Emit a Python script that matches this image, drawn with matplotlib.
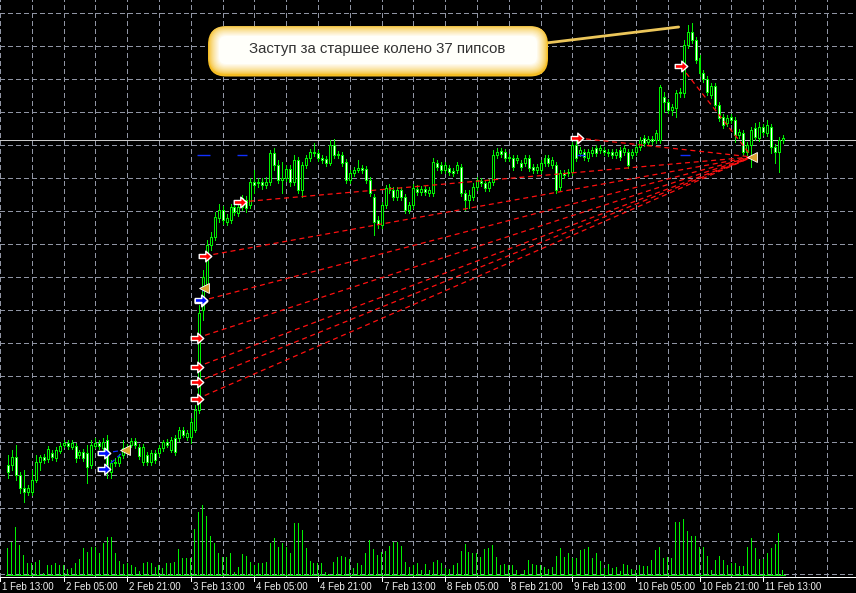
import numpy as np
import matplotlib.pyplot as plt
import matplotlib.transforms as mtransforms
from matplotlib.patches import FancyBboxPatch
from matplotlib.path import Path

plt.rcParams['font.family'] = ['Liberation Sans', 'DejaVu Sans']

# H1 bars (price in chart points)
opens = [135, 135, 143, 125, 112, 108, 108, 120, 138, 143,
         141, 147, 142, 149, 155, 157, 153, 154, 145, 148,
         147, 135, 154, 157, 152, 160, 128, 137, 137, 145,
         153, 155, 159, 153, 138, 145, 138, 147, 147, 152,
         158, 150, 162, 162, 170, 163, 163, 170, 190, 290,
         315, 355, 363, 382, 390, 378, 380, 393, 387, 393,
         400, 395, 418, 417, 418, 415, 418, 447, 435, 420,
         422, 431, 418, 440, 410, 435, 442, 448, 447, 442,
         441, 437, 455, 445, 445, 438, 420, 427, 430, 432,
         431, 420, 403, 380, 375, 395, 413, 410, 403, 410,
         403, 390, 395, 411, 408, 411, 407, 407, 437, 435,
         430, 432, 429, 430, 433, 407, 400, 403, 413, 419,
         417, 412, 418, 445, 449, 448, 442, 442, 440, 437,
         437, 442, 433, 430, 430, 437, 442, 435, 435, 413,
         427, 427, 428, 455, 447, 448, 442, 447, 452, 450,
         450, 448, 448, 445, 450, 448, 448, 445, 448, 453,
         462, 458, 461, 460, 460, 503, 498, 490, 492, 507,
         507, 555, 568, 560, 542, 527, 521, 505, 514, 495,
         483, 477, 483, 480, 465, 467, 448, 455, 472, 462,
         473, 467, 473, 453, 448, 460]
highs = [145, 150, 155, 128, 130, 115, 130, 145, 145, 146,
         154, 150, 153, 157, 160, 160, 160, 157, 150, 151,
         155, 160, 162, 160, 162, 165, 140, 142, 146, 160,
         156, 162, 162, 156, 156, 148, 150, 150, 155, 160,
         161, 163, 165, 173, 173, 170, 182, 195, 295, 330,
         360, 368, 388, 396, 394, 386, 396, 396, 397, 405,
         404, 422, 430, 422, 422, 423, 450, 452, 440, 438,
         435, 435, 445, 443, 438, 445, 451, 457, 450, 445,
         444, 460, 461, 449, 448, 441, 430, 433, 440, 435,
         434, 423, 406, 384, 398, 415, 416, 413, 413, 413,
         406, 398, 416, 415, 414, 414, 413, 442, 440, 438,
         438, 435, 432, 438, 436, 410, 410, 417, 423, 422,
         420, 421, 450, 452, 452, 451, 446, 445, 445, 440,
         445, 445, 436, 436, 440, 445, 445, 443, 438, 430,
         430, 431, 458, 462, 453, 451, 451, 453, 455, 455,
         453, 451, 451, 451, 453, 455, 451, 451, 456, 463,
         465, 464, 464, 470, 515, 508, 501, 496, 510, 512,
         560, 575, 577, 563, 545, 530, 524, 517, 517, 498,
         486, 485, 486, 483, 471, 470, 458, 473, 477, 478,
         476, 480, 476, 456, 463, 465]
lows = [122, 130, 120, 107, 98, 105, 105, 118, 130, 137,
        138, 140, 139, 147, 153, 151, 151, 138, 142, 139,
        117, 132, 152, 151, 148, 122, 122, 134, 134, 142,
        148, 153, 152, 141, 135, 135, 135, 137, 144, 149,
        153, 148, 145, 159, 163, 160, 157, 168, 187, 280,
        310, 350, 360, 378, 376, 375, 377, 385, 384, 390,
        388, 392, 407, 413, 411, 412, 415, 430, 417, 407,
        419, 414, 415, 407, 403, 432, 439, 444, 439, 437,
        434, 435, 442, 442, 434, 417, 417, 424, 428, 427,
        417, 404, 365, 372, 372, 392, 407, 400, 400, 400,
        387, 387, 392, 405, 405, 405, 404, 404, 430, 427,
        427, 425, 424, 427, 404, 390, 392, 400, 410, 414,
        409, 409, 415, 442, 443, 439, 439, 430, 437, 430,
        434, 429, 427, 427, 427, 434, 434, 432, 407, 410,
        422, 424, 425, 439, 444, 440, 439, 444, 444, 447,
        445, 444, 442, 442, 440, 445, 432, 442, 445, 450,
        454, 455, 456, 457, 457, 488, 487, 485, 483, 503,
        503, 552, 557, 537, 524, 518, 505, 502, 492, 479,
        472, 474, 477, 458, 462, 445, 445, 433, 460, 459,
        465, 464, 447, 437, 428, 457]
closes = [128, 143, 125, 112, 108, 112, 120, 138, 143, 140,
          151, 143, 150, 154, 157, 154, 157, 142, 148, 142,
          133, 155, 157, 154, 158, 132, 137, 138, 143, 152,
          150, 159, 155, 144, 153, 138, 147, 140, 152, 158,
          155, 160, 148, 170, 165, 167, 178, 190, 287, 323,
          355, 363, 383, 390, 380, 382, 393, 388, 393, 402,
          392, 418, 415, 418, 415, 418, 447, 435, 420, 422,
          431, 418, 440, 410, 435, 442, 448, 447, 442, 440,
          437, 455, 445, 446, 437, 420, 427, 430, 432, 430,
          420, 407, 378, 376, 395, 412, 410, 403, 410, 403,
          390, 395, 412, 408, 411, 408, 410, 438, 433, 430,
          435, 428, 427, 435, 407, 400, 405, 413, 420, 417,
          412, 418, 445, 448, 446, 442, 443, 433, 442, 433,
          442, 432, 430, 433, 437, 442, 437, 440, 410, 427,
          425, 428, 455, 442, 450, 443, 448, 450, 447, 452,
          448, 447, 445, 448, 443, 452, 435, 448, 453, 460,
          457, 461, 459, 467, 513, 498, 490, 493, 507, 508,
          555, 568, 560, 540, 527, 521, 508, 514, 495, 482,
          475, 482, 480, 465, 468, 448, 455, 470, 463, 473,
          468, 475, 453, 448, 460, 462]
volumes = [27, 33, 48, 30, 20, 12, 12, 13, 15, 2,
           10, 10, 12, 10, 10, 6, 7, 12, 16, 27,
           23, 28, 28, 22, 32, 38, 38, 22, 14, 11,
           12, 10, 8, 4, 12, 13, 12, 8, 10, 7,
           12, 12, 13, 26, 17, 17, 17, 46, 63, 70,
           59, 39, 32, 22, 18, 18, 22, 3, 8, 21,
           19, 13, 10, 12, 12, 13, 32, 37, 28, 32,
           28, 22, 52, 52, 45, 27, 14, 12, 12, 12,
           3, 1, 13, 18, 19, 18, 16, 7, 12, 10,
           22, 35, 26, 20, 23, 24, 29, 33, 33, 29,
           13, 8, 10, 12, 5, 11, 5, 13, 15, 12,
           7, 6, 10, 12, 24, 31, 23, 22, 22, 18,
           26, 27, 30, 18, 10, 11, 10, 10, 5, 1,
           5, 15, 11, 10, 10, 8, 6, 8, 19, 27,
           18, 22, 17, 17, 25, 26, 28, 17, 22, 14,
           7, 11, 7, 8, 4, 11, 10, 6, 5, 10,
           9, 9, 15, 25, 28, 17, 18, 17, 53, 53,
           56, 44, 39, 39, 28, 28, 19, 5, 15, 19,
           15, 10, 12, 12, 9, 9, 28, 37, 27, 16,
           16, 22, 27, 31, 42, 5]

time_labels = ['1 Feb 13:00', '2 Feb 05:00', '2 Feb 21:00', '3 Feb 13:00',
               '4 Feb 05:00', '4 Feb 21:00', '7 Feb 13:00', '8 Feb 05:00',
               '8 Feb 21:00', '9 Feb 13:00', '10 Feb 05:00', '10 Feb 21:00',
               '11 Feb 13:00']
label_bars = [-2, 14, 30, 46, 62, 78, 94, 110, 126, 142, 158, 174, 190]

bid_price = 460

# trades (bar position, price)
sell_open_x = [58.5, 49.5, 48.5, 47.5, 47.5, 47.5, 47.5, 143.25, 169.25]
sell_open_p = [398, 344, 299, 262, 233, 218, 201, 462, 534]
sell_close_x, sell_close_p = 187.25, 443
buy_open_x = [24.25, 24.25, 48.5]
buy_open_p = [147, 131, 300]
buy_close_x = [29.5, 29.5, 49.25]
buy_close_p = [150, 150, 312]
close_mark_x = [29.5, 49.25, 187.25]
close_mark_p = [150, 312, 443]
level_spans = [(47.5, 50.75), (57.75, 60.25), (143.25, 145.25), (169.0, 171.5)]
level_price = 445

note_text = 'Заступ за старшее колено 37 пипсов'
note_target = (168.75, 573)

GREEN = '#00f000'
GRID = '#9095a4'
W, H = 856, 593

fig = plt.figure(figsize=(W / 100, H / 100), dpi=100, facecolor='black')
ax = fig.add_axes([0, 16 / H, 1, 577 / H])
ax.set_facecolor('black')
ax.set_xlim(-0.625, 213.375)
ax.set_ylim(23, 600)

ax.set_xticks(np.arange(-2, 214, 8))
ax.set_yticks(np.arange(26, 600, 33))
ax.grid(True, color=GRID, linestyle=(0, (5, 3)), linewidth=0.72, antialiased=False)
ax.set_axisbelow(True)
ax.tick_params(length=0, labelbottom=False, labelleft=False)
for s in ['top', 'left', 'right']:
    ax.spines[s].set_visible(False)
ax.spines['bottom'].set_color('white')
ax.spines['bottom'].set_linewidth(0.72)

ax.axhline(bid_price, color='#c8c8c8', lw=0.72, antialiased=False, zorder=2)

# candles
o = np.array(opens, float)
h = np.array(highs, float)
l = np.array(lows, float)
c = np.array(closes, float)
x = np.arange(len(o))
ax.vlines(x, l, h, color=GREEN, lw=0.72, antialiased=False, zorder=3)
fills = np.where(c >= o, 'black', 'white')
ax.bar(x, np.abs(c - o), bottom=np.minimum(o, c), width=0.5, color=fills,
       edgecolor=GREEN, linewidth=0.72, antialiased=False, zorder=4)

# volumes
vax = ax.twinx()
vax.set_ylim(-2, 575)
vax.axis('off')
vax.bar(x, volumes, width=0.25, color=GREEN, linewidth=0, antialiased=False)
vax.hlines(0, -0.5, len(x) - 0.5, color=GREEN, lw=0.72, antialiased=False)

# trade lines and markers
for xo, po in zip(sell_open_x, sell_open_p):
    ax.plot([xo, sell_close_x], [po, sell_close_p], color='#ff1010',
            ls=(0, (4, 3)), lw=0.9, zorder=5)
for xo, po, xc, pc in zip(buy_open_x, buy_open_p, buy_close_x, buy_close_p):
    ax.plot([xo, xc], [po, pc], color='#1030ff', ls=(0, (4, 3)), lw=0.9, zorder=5)
for a, b in level_spans:
    ax.plot([a, b], [level_price, level_price], color='#1030ff', lw=1.0,
            solid_capstyle='butt', zorder=5)

arrow = Path([(-1, -0.32), (0.05, -0.32), (0.05, -0.85), (1, 0), (0.05, 0.85),
              (0.05, 0.32), (-1, 0.32), (-1, -0.32)],
             [Path.MOVETO] + [Path.LINETO] * 6 + [Path.CLOSEPOLY])
ax.plot(sell_open_x, sell_open_p, ls='none', marker=arrow, ms=9, mfc='#ff0000',
        mec='white', mew=1.0, zorder=7)
ax.plot(buy_open_x, buy_open_p, ls='none', marker=arrow, ms=9, mfc='#0010ff',
        mec='white', mew=1.0, zorder=8)
ax.plot(close_mark_x, close_mark_p, ls='none', marker='<', ms=7.5, mfc='#d9a030',
        mec='white', mew=0.6, zorder=8)

# time axis labels
blend = mtransforms.blended_transform_factory(ax.transData, ax.transAxes)
for b, lab in zip(label_bars, time_labels):
    ax.plot([b, b], [0, -4 / 577], transform=blend, color='white', lw=0.72,
            antialiased=False, clip_on=False)
    ax.text(b, 0, lab, transform=mtransforms.offset_copy(blend, fig, x=2, y=-5, units='dots'),
            ha='left', va='top', fontsize=7, color='#f0f0f0', clip_on=False)

# callout
pix = mtransforms.Affine2D().scale(1 / W, -1 / H).translate(0, 1) + fig.transFigure
ax.annotate('', xy=note_target, xycoords='data', xytext=(546, 43), textcoords=pix,
            arrowprops=dict(arrowstyle='-', color='#ecc65a', lw=2.0, shrinkA=0, shrinkB=0))
bx, by, bw, bh = 208, 25, 340, 50
c0 = np.array([0.96, 0.74, 0.14])
c1 = np.array([1.0, 1.0, 0.98])
n = 11
for k in range(n):
    d = k * 1.1
    t = (k / (n - 1)) ** 0.7
    col = c0 * (1 - t) + c1 * t
    patch = FancyBboxPatch((bx + d, by + d + (1.5 if k == 0 else 0)), bw - 2 * d, bh - 2 * d,
                           boxstyle='round,pad=0,rounding_size=%.1f' % max(18 - d, 5),
                           transform=pix, fc=col, ec='none', zorder=3)
    fig.add_artist(patch)
fig.text(377.5, 49.5, note_text, transform=pix, ha='center', va='center',
         fontsize=10.8, color='#333333', zorder=5)

fig.savefig('out.png', dpi=100, facecolor='black')
